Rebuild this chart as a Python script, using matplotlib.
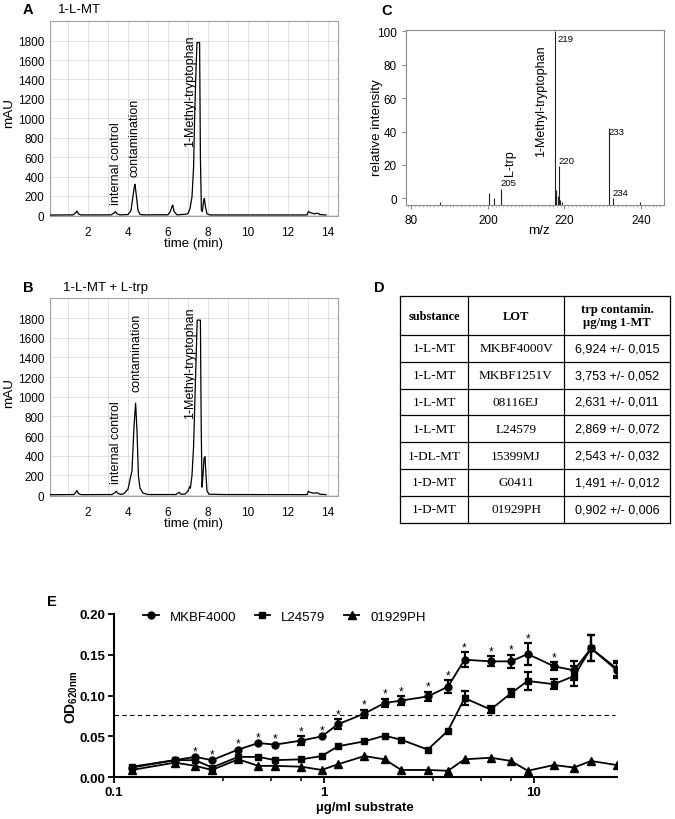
import numpy as np
import matplotlib
matplotlib.use('Agg')
import matplotlib.pyplot as plt
from matplotlib.ticker import NullFormatter, FixedLocator

plt.rcParams['font.family'] = ['Liberation Sans', 'DejaVu Sans']
plt.rcParams['mathtext.fontset'] = 'custom'
plt.rcParams['mathtext.rm'] = 'Liberation Sans'
plt.rcParams['mathtext.bf'] = 'Liberation Sans:bold'

# ---------------- data ----------------
# Panel A chromatogram (retention time [min], absorbance [mAU])
a_time = [0.1, 1.25, 1.38, 1.45, 1.52, 1.65, 3.15, 3.3, 3.37, 3.45, 3.6, 4.0, 4.15, 4.25,
          4.33, 4.35, 4.42, 4.5, 4.6, 4.75, 6.0, 6.12, 6.2, 6.24, 6.3, 6.45, 6.9, 7.0, 7.1,
          7.2, 7.28, 7.33, 7.4, 7.45, 7.58, 7.62, 7.67, 7.72, 7.78, 7.82, 7.87, 7.95, 8.1,
          12.95, 13.02, 13.1, 13.3, 13.4, 13.5, 13.6, 13.9]
a_mau = [3, 5, 25, 45, 15, 4, 5, 22, 38, 15, 5, 8, 50, 200, 310, 320, 200, 50, 10, 5,
         6, 40, 95, 105, 40, 5, 12, 20, 70, 190, 500, 1000, 1500, 1780, 1780, 600, 50,
         40, 150, 175, 90, 15, 4, 4, 40, 30, 15, 20, 20, 8, 4]
# Panel B chromatogram
b_time = [0.1, 1.3, 1.38, 1.45, 1.52, 1.65, 3.2, 3.35, 3.42, 3.5, 3.65, 3.8, 4.0, 4.2,
          4.3, 4.38, 4.45, 4.52, 4.6, 4.75, 5.0, 6.4, 6.5, 6.56, 6.65, 6.85, 7.0, 7.08,
          7.12, 7.2, 7.28, 7.35, 7.42, 7.46, 7.62, 7.66, 7.7, 7.75, 7.8, 7.85, 7.9, 7.95,
          8.05, 8.8, 12.95, 13.02, 13.1, 13.3, 13.4, 13.5, 13.6, 13.9]
b_mau = [3, 5, 25, 45, 15, 4, 5, 25, 38, 15, 6, 15, 60, 250, 700, 935, 650, 200, 70, 20,
         5, 5, 20, 28, 8, 10, 40, 85, 70, 200, 500, 1000, 1500, 1780, 1780, 700, 80, 200,
         370, 390, 200, 40, 8, 5, 4, 38, 28, 18, 22, 20, 8, 4]
chrom_labels = ['internal control', 'contamination', '1-Methyl-tryptophan']
a_label_pos = [(3.4, 120), (4.35, 410), (7.1, 710)]
b_label_pos = [(3.4, 123), (4.4, 1058), (7.1, 785)]

# Panel C mass spectrum (peak position on axis, relative intensity)
c_pos = [187.4, 200.4, 201.5, 203.5, 217.5, 217.7, 217.9, 218.2, 218.6, 218.9, 219.3,
         231.6, 232.6, 239.6]
c_int = [-2, 3.2, 0.2, 5.6, 100, 5, 3, 1.5, 19.6, -1, -2, 42, 0, -2]
c_peak_names = ['219', '220', '233', '234', '205']
c_name_pos = [(218.1, 96), (218.5, 22.9), (231.5, 40.1), (232.6, 3.6), (203.3, 9.6)]
c_xtick_pos = [180, 200, 220, 240]
c_xtick_lab = ['80', '200', '220', '240']

# Panel D table
substances = ['1-L-MT', '1-L-MT', '1-L-MT', '1-L-MT', '1-DL-MT', '1-D-MT', '1-D-MT']
lots = ['MKBF4000V', 'MKBF1251V', '08116EJ', 'L24579', '15399MJ', 'G0411', '01929PH']
contam_mean = [6.924, 3.753, 2.631, 2.869, 2.543, 1.491, 0.902]
contam_sd = [0.015, 0.052, 0.011, 0.072, 0.032, 0.012, 0.006]

# Panel E
conc = [0.122, 0.195, 0.244, 0.293, 0.391, 0.488, 0.586, 0.781, 0.977, 1.17, 1.56, 1.95,
        2.34, 3.13, 3.91, 4.69, 6.25, 7.81, 9.38, 12.5, 15.6, 18.8, 25.0]
mk_mean = [0.012, 0.021, 0.025, 0.021, 0.034, 0.042, 0.040, 0.045, 0.050, 0.065, 0.078,
           0.091, 0.094, 0.099, 0.111, 0.144, 0.142, 0.142, 0.151, 0.136, 0.131, 0.158, 0.131]
mk_err = [0, 0, 0.001, 0.001, 0.001, 0.001, 0.001, 0.005, 0.001, 0.006, 0.005, 0.005,
          0.005, 0.006, 0.008, 0.009, 0.006, 0.008, 0.013, 0.005, 0.012, 0.016, 0.009]
l_mean = [0.013, 0.021, 0.021, 0.012, 0.025, 0.025, 0.021, 0.022, 0.026, 0.038, 0.044,
          0.051, 0.046, 0.034, 0.057, 0.097, 0.083, 0.103, 0.118, 0.114, 0.124, 0.158, 0.133]
l_err = [0, 0, 0, 0, 0, 0, 0, 0, 0, 0, 0, 0, 0, 0, 0, 0.009, 0.004, 0.005, 0.011, 0.006,
         0.012, 0.016, 0.009]
p_mean = [0.009, 0.018, 0.014, 0.009, 0.022, 0.014, 0.014, 0.013, 0.009, 0.016, 0.026,
          0.022, 0.009, 0.009, 0.008, 0.022, 0.024, 0.020, 0.008, 0.015, 0.012, 0.020, 0.015]
significant = [0, 0, 1, 1, 1, 1, 1, 1, 1, 1, 1, 1, 1, 1, 1, 1, 1, 1, 1, 1, 0, 0, 0]
threshold = 0.0767
series_names = ['MKBF4000', 'L24579', '01929PH']

# ---------------- figure ----------------
W, H = 675, 820
fig = plt.figure(figsize=(W / 100, H / 100), dpi=100)


def box(l, t, r, b):
    return [l / W, 1 - b / H, (r - l) / W, (b - t) / H]


def ft(x, y, s, **kw):
    fig.text(x / W, 1 - y / H, s, **kw)


def chrom(rect, t, y, label_pos):
    ax = fig.add_axes(rect)
    ax.plot(t, y, color='black', lw=0.9, zorder=3)
    ax.set_xlim(0.1, 14.5)
    ax.set_ylim(-10, 2005)
    ax.set_xticks(range(2, 15, 2))
    ax.set_xticks(range(1, 15), minor=True)
    ax.set_yticks(range(0, 1801, 200))
    ax.grid(True, which='both', color='#dcdcdc', lw=0.6)
    ax.set_axisbelow(True)
    for s in ax.spines.values():
        s.set_color('#a0a0a0')
        s.set_linewidth(0.8)
    ax.tick_params(which='both', length=0, labelsize=8.5)
    ax.tick_params(axis='x', pad=7)
    ax.tick_params(axis='y', pad=4)
    for name, (x, yy) in zip(chrom_labels, label_pos):
        ax.text(x, yy, name, rotation=90, ha='center', va='bottom', fontsize=9)
    return ax


# A
chrom(box(50, 21.7, 338, 217.3), a_time, a_mau, a_label_pos)
ft(28, 10, 'A', fontsize=10.5, fontweight='bold', ha='center', va='center')
ft(58, 10, '1-L-MT', fontsize=9.5, ha='left', va='center')
ft(9, 113, 'mAU', fontsize=9.7, rotation=90, ha='center', va='center')
ft(194, 244, 'time (min)', fontsize=9.5, ha='center', va='center')

# B
chrom(box(50, 299, 338, 497), b_time, b_mau, b_label_pos)
ft(28, 288, 'B', fontsize=10.5, fontweight='bold', ha='center', va='center')
ft(63, 288, '1-L-MT + L-trp', fontsize=9.5, ha='left', va='center')
ft(9, 393, 'mAU', fontsize=9.7, rotation=90, ha='center', va='center')
ft(194, 524, 'time (min)', fontsize=9.5, ha='center', va='center')

# C
axc = fig.add_axes(box(406, 31, 664, 206))
axc.vlines(c_pos, -4, c_int, color='#222222', lw=0.8)
axc.set_xlim(178.6, 246.0)
axc.set_ylim(-4, 100.8)
axc.set_xticks(c_xtick_pos)
axc.set_xticklabels(c_xtick_lab)
axc.xaxis.set_minor_locator(FixedLocator(np.arange(179, 246, 1.0)))
axc.set_yticks(range(0, 101, 20))
for s in axc.spines.values():
    s.set_color('#8a8a8a')
    s.set_linewidth(0.8)
axc.tick_params(which='major', length=3, color='#8a8a8a', labelsize=8.5)
axc.tick_params(which='minor', length=1.5, color='#aaaaaa')
for name, (x, yy) in zip(c_peak_names, c_name_pos):
    axc.text(x, yy, name, fontsize=6.8, ha='left', va='center')
axc.text(205.8, 21.5, 'L-trp', rotation=90, ha='center', va='center', fontsize=9)
axc.text(214.0, 58.9, '1-Methyl-tryptophan', rotation=90, ha='center', va='center', fontsize=9)
ft(387, 11, 'C', fontsize=10.5, fontweight='bold', ha='center', va='center')
ft(377, 128, 'relative intensity', fontsize=9.7, rotation=90, ha='center', va='center')
ft(539, 231, 'm/z', fontsize=9.7, ha='center', va='center')

# D table
ft(379, 288, 'D', fontsize=10.5, fontweight='bold', ha='center', va='center')
tl, tr, tt, tb = 400, 670, 297, 523.6
axd = fig.add_axes(box(tl, tt, tr, tb))
axd.set_xlim(tl, tr)
axd.set_ylim(tb, tt)
axd.axis('off')
col_edges = [400, 468, 564, 670]
head_bottom = 336
row_h = (tb - head_bottom) / len(lots)
row_edges = [tt, head_bottom] + [head_bottom + row_h * (i + 1) for i in range(len(lots))]
for x in col_edges:
    axd.plot([x, x], [tt, tb], color='black', lw=0.9, clip_on=False)
for y in row_edges:
    axd.plot([tl, tr], [y, y], color='black', lw=0.9, clip_on=False)
cc = [(col_edges[i] + col_edges[i + 1]) / 2 for i in range(3)]
hy = (tt + head_bottom) / 2
serif = ['Liberation Serif', 'DejaVu Serif']
axd.text(cc[0], hy, 'substance', family=serif, fontweight='bold', fontsize=9, ha='center', va='center')
axd.text(cc[1], hy, 'LOT', family=serif, fontweight='bold', fontsize=9, ha='center', va='center')
axd.text(cc[2], hy - 7, 'trp contamin.', family=serif, fontweight='bold', fontsize=9, ha='center', va='center')
axd.text(cc[2], hy + 7, 'µg/mg 1-MT', family=serif, fontweight='bold', fontsize=9, ha='center', va='center')
for i, (s, lot, m, sd) in enumerate(zip(substances, lots, contam_mean, contam_sd)):
    yc = head_bottom + row_h * (i + 0.5)
    axd.text(cc[0], yc, s, family=serif, fontsize=9.5, ha='center', va='center')
    axd.text(cc[1], yc, lot, family=serif, fontsize=9.5, ha='center', va='center')
    txt = f'{m:.3f} +/- {sd:.3f}'.replace('.', ',')
    axd.text(cc[2], yc, txt, fontsize=9, ha='center', va='center')

# E
axe = fig.add_axes(box(114, 615, 617, 778.3))
axe.set_xscale('log')
axe.axhline(threshold, color='black', lw=0.8, ls=(0, (4, 3)), xmax=0.996)
styles = [('o', 5.0), ('s', 5.0), ('^', 5.5)]
handles = []
for (mean, err), (mk, ms), name in zip([(mk_mean, mk_err), (l_mean, l_err), (p_mean, None)],
                                       styles, series_names):
    h, = axe.plot(conc, mean, color='black', lw=1.3, marker=mk, ms=ms, label=name, zorder=3)
    handles.append(h)
    if err is not None:
        idx = [i for i, e in enumerate(err) if e > 0.002]
        axe.errorbar([conc[i] for i in idx], [mean[i] for i in idx], yerr=[err[i] for i in idx],
                     fmt='none', ecolor='black', elinewidth=1.6, capsize=3, capthick=1.6, zorder=3)
for i, s in enumerate(significant):
    if s:
        axe.annotate('*', xy=(conc[i], mk_mean[i] + mk_err[i]), xytext=(0, 1.5),
                     textcoords='offset points', ha='center', va='baseline', fontsize=8.5)
axe.set_xlim(0.1, 25)
axe.set_ylim(0, 0.20)
axe.set_xticks([0.1, 1, 10])
axe.set_xticklabels(['0.1', '1', '10'])
axe.xaxis.set_minor_locator(FixedLocator([0.33, 0.56, 0.78, 3.3, 5.6, 7.8]))
axe.xaxis.set_minor_formatter(NullFormatter())
axe.set_yticks([0, 0.05, 0.10, 0.15, 0.20])
axe.set_yticklabels(['0.00', '0.05', '0.10', '0.15', '0.20'])
for s in ['top', 'right']:
    axe.spines[s].set_visible(False)
for s in ['left', 'bottom']:
    axe.spines[s].set_linewidth(1.5)
axe.tick_params(which='major', length=4, width=1.3, labelsize=9.5, pad=2)
axe.tick_params(which='minor', length=3, width=1.1)
for lab in axe.get_xticklabels() + axe.get_yticklabels():
    lab.set_fontweight('bold')
axe.legend(handles=handles, loc='center left', bbox_to_anchor=(0.058, 0.985), ncol=3,
           frameon=False, fontsize=9.5, handlelength=1.2, handletextpad=0.8,
           columnspacing=1.4, borderpad=0, borderaxespad=0)
ft(52, 602, 'E', fontsize=10.5, fontweight='bold', ha='center', va='center')
ft(72, 697, r'OD$_{\mathbf{620nm}}$', fontsize=10, fontweight='bold', rotation=90,
   ha='center', va='center')
ft(365, 808, 'µg/ml substrate', fontsize=9.5, fontweight='bold', ha='center', va='center')

fig.savefig('out.png', dpi=100)
